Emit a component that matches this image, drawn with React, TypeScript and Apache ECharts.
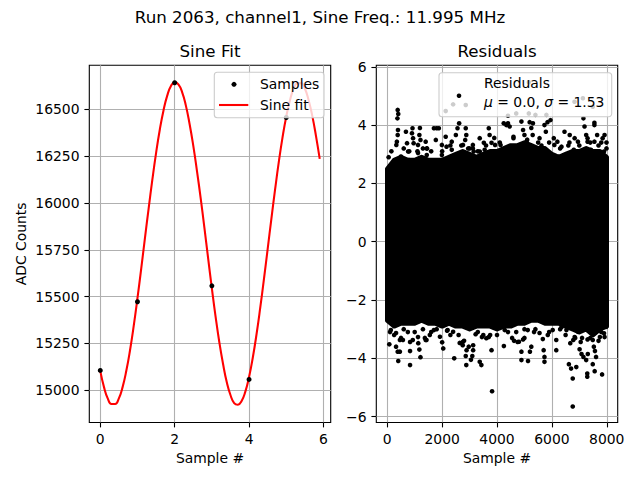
import React, { useEffect, useRef } from 'react';
import * as echarts from 'echarts';

const FONT = 'DejaVu Sans';
const SUPTITLE = 'Run 2063, channel1, Sine Freq.: 11.995 MHz';
const LEFT_TITLE = 'Sine Fit';
const RIGHT_TITLE = 'Residuals';

// Left panel: samples and sine fit
const sampleX = [0, 1, 2, 3, 4, 5];
const sampleY = [15106, 15473, 16643, 15558, 15058, 16457];
const fitX = [
  0, 0.1, 0.2, 0.3, 0.4, 0.5, 0.6, 0.7, 0.8, 0.9,
  1.0, 1.1, 1.2, 1.3, 1.4, 1.5, 1.6, 1.7, 1.8, 1.9,
  2.0, 2.1, 2.2, 2.3, 2.4, 2.5, 2.6, 2.7, 2.8, 2.9,
  3.0, 3.1, 3.2, 3.3, 3.4, 3.5, 3.6, 3.7, 3.8, 3.9,
  4.0, 4.1, 4.2, 4.3, 4.4, 4.5, 4.6, 4.7, 4.8, 4.9,
  5.0, 5.1, 5.2, 5.3, 5.4, 5.5, 5.6, 5.7, 5.8, 5.9,
];
const fitY = [
  15104, 15017, 14957, 14927, 14927, 14957, 15017, 15104, 15214, 15345,
  15492, 15649, 15811, 15971, 16125, 16267, 16392, 16495, 16574, 16625,
  16645, 16634, 16593, 16522, 16424, 16307, 16171, 16025, 15867, 15705,
  15545, 15394, 15258, 15142, 15044, 14975, 14932, 14923, 14943, 14993,
  15071, 15174, 15298, 15440, 15594, 15754, 15916, 16073, 16220, 16351,
  16462, 16549, 16611, 16641, 16641, 16612, 16551, 16466, 16358, 16236,
];
const leftXTicks = [0, 2, 4, 6];
const leftYTicks = [15000, 15250, 15500, 15750, 16000, 16250, 16500];

// Right panel: residuals (dense core as a band, sparse points individually)
const rightXTicks = [0, 2000, 4000, 6000, 8000];
const rightYTicks = [-6, -4, -2, 0, 2, 4, 6];
const bandX = [
  0, 250, 500, 750, 1000, 1250, 1500, 1750, 2000, 2250, 2500, 2750, 3000, 3250, 3500, 3750,
  4000, 4250, 4500, 4750, 5000, 5250, 5500, 5750, 6000, 6250, 6500, 6750, 7000, 7250, 7500, 7750, 7999,
];
const bandUpper = [
  2.5, 2.8, 2.9, 2.8, 2.8, 2.9, 2.8, 2.8, 2.8, 2.9, 3.0, 3.1, 3.0, 2.9, 3.0, 3.1,
  3.1, 3.2, 3.3, 3.3, 3.4, 3.3, 3.2, 3.2, 3.0, 2.9, 3.0, 3.1, 3.1, 3.2, 3.1, 3.1, 2.9,
];
const bandLower = [
  -2.7, -2.9, -2.8, -2.8, -2.8, -2.7, -2.8, -2.8, -2.9, -2.8, -2.9, -2.9, -3.0, -2.9, -2.9, -2.9,
  -3.0, -2.9, -2.9, -2.8, -2.8, -2.7, -2.7, -2.8, -2.8, -2.8, -2.9, -3.0, -3.1, -3.0, -3.2, -3.0, -2.9,
];
const residualsHigh = [
  [380, 4.52], [400, 4.38], [370, 4.23], [390, 3.83], [380, 3.66], [350, 3.43], [330, 3.32],
  [680, 3.77], [920, 3.89], [900, 3.72], [940, 3.55], [960, 3.38], [1190, 3.9], [1170, 3.66],
  [1210, 3.49], [1400, 3.43], [1450, 3.2], [1700, 3.89], [1800, 3.89], [1880, 3.89], [1770, 3.49],
  [2130, 3.6], [2160, 3.26], [2500, 3.66], [2560, 3.89], [2620, 4.06], [2860, 3.89], [2880, 3.66],
  [2840, 3.49], [3120, 3.32], [3150, 3.09], [3520, 3.39], [3550, 3.15], [3700, 3.89], [3730, 3.66],
  [3900, 3.56], [3930, 3.32], [2130, 4.48], [2400, 4.71], [2860, 4.69], [4400, 4.32], [4700, 4.4],
  [5160, 4.4], [5400, 4.35], [5800, 4.35], [5160, 5.47], [6825, 4.8], [7130, 4.92], [7490, 4.63],
  [4400, 4.06], [4460, 3.95], [4890, 4.12], [4950, 3.83], [5000, 3.66], [5190, 4.1], [5250, 3.9],
  [5300, 3.66], [5730, 4.0], [5840, 4.1], [5780, 3.77], [6070, 3.55], [6090, 3.32], [6460, 3.77],
  [6650, 3.66], [6830, 3.55], [7190, 3.95], [7250, 3.66], [7300, 3.55], [7550, 4.0], [7650, 3.66],
  [7850, 3.55], [7920, 3.66], [4245, 4.06], [4340, 4.0], [5310, 4.06], [5950, 4.17], [7150, 4.23],
  [7550, 4.08], [50, 2.9], [150, 3.1], [600, 3.2], [800, 3.1], [1100, 3.1], [1300, 3.2], [1600, 3.1],
  [2000, 3.1], [2300, 3.3], [2700, 3.3], [3000, 3.2], [3300, 3.1], [3600, 3.3], [4100, 3.4],
  [4600, 3.6], [5100, 3.5], [5500, 3.4], [5900, 3.4], [6300, 3.2], [6600, 3.3], [7000, 3.3],
  [7400, 3.4], [7700, 3.3], [7990, 3.2],
  [500, 2.92], [720, 3.38], [760, 3.09], [790, 2.8], [1120, 3.32], [1120, 3.04], [1440, 3.2],
  [1440, 2.97], [1990, 3.32], [1990, 2.97], [2350, 3.43], [2350, 3.15], [2760, 3.32], [2950, 3.2],
  [3120, 3.2], [3370, 3.55], [3370, 3.09], [3800, 3.39], [3800, 3.09], [4130, 3.32], [4130, 3.09],
  [4600, 3.55], [4680, 3.2], [4750, 3.09], [5080, 3.43], [5150, 3.2], [5260, 3.09], [5550, 3.55],
  [5620, 3.3], [5730, 3.09], [6200, 3.43], [6350, 3.26], [6640, 3.4], [6950, 3.43], [6800, 3.15],
  [7300, 3.43], [7550, 3.43], [7420, 3.15], [7800, 3.4], [7990, 3.4], [7900, 3.09],
];
const residualsLow = [
  [75, -3.52], [320, -3.6], [380, -3.77], [460, -3.77], [400, -4.09], [460, -3.37], [570, -3.37],
  [830, -3.44], [830, -3.75], [830, -4.23], [1130, -3.48], [1170, -3.7], [1210, -3.96], [1370, -3.3],
  [1430, -3.37], [1920, -3.26], [2000, -3.45], [2040, -3.66], [2180, -3.05], [2400, -3.09],
  [2440, -4.0], [2640, -3.47], [2750, -3.55], [2800, -3.4], [2890, -3.72], [2860, -3.92],
  [2880, -4.23], [3050, -4.05], [3100, -3.92], [3130, -3.55], [3130, -3.72], [3370, -4.12],
  [3430, -4.23], [3610, -3.31], [3750, -3.2], [3800, -3.72], [3820, -5.13], [4250, -3.58],
  [4620, -3.4], [4800, -3.43], [4950, -3.35], [4890, -3.77], [4890, -4.06], [5130, -4.09],
  [5200, -3.77], [5250, -3.6], [5670, -3.34], [5700, -3.72], [5730, -3.95], [5730, -4.12],
  [6160, -3.37], [6160, -3.72], [6670, -3.48], [6780, -3.37], [6850, -3.3], [6950, -3.09],
  [6620, -4.2], [6700, -4.35], [6760, -4.69], [6890, -4.3], [6760, -5.65], [7010, -3.69],
  [7080, -3.85], [7150, -3.95], [7250, -4.06], [7310, -3.85], [7290, -4.52], [7290, -4.63],
  [7490, -3.37], [7530, -3.6], [7570, -3.75], [7610, -3.95], [7490, -4.2], [7560, -4.44],
  [7830, -4.55], [7980, -2.92], [7800, -3.1], [7900, -3.14], [100, -3.1], [250, -3.2], [600, -3.0],
  [1000, -3.1], [1300, -3.0], [1600, -3.1], [1800, -3.0], [2300, -3.2], [2600, -3.2], [3300, -3.1],
  [3500, -3.2], [4000, -3.2], [4400, -3.1], [4700, -3.1], [5000, -3.0], [5400, -3.0], [5900, -3.1],
  [6300, -3.0], [6500, -3.2], [7100, -3.3], [7400, -3.3], [7700, -3.4],
  [130, -3.03], [320, -3.13], [500, -3.3], [750, -3.1], [930, -3.37], [1120, -3.27], [1400, -3.37],
  [1550, -3.2], [1700, -3.03], [2200, -3.03], [2750, -3.44], [2970, -3.6], [3220, -3.17],
  [3450, -3.27], [3700, -3.27], [4280, -3.03], [4550, -3.3], [4750, -3.44], [5000, -3.3],
  [5120, -3.03], [5350, -3.1], [5550, -3.13], [5850, -3.2], [6030, -3.03], [6350, -2.93],
  [6530, -3.03], [6830, -3.27], [7050, -3.44], [7300, -3.35], [7550, -3.13], [7750, -3.27], [7920, -3.27],
];
const RESID_MU = '0.0';
const RESID_SIGMA = '1.53';

const minus = (v: number) => (v < 0 ? '\u2212' + Math.abs(v) : String(v));

function axisCommon(ticks: number[], fmt: (v: number) => string) {
  return {
    axisLine: { show: false, onZero: false },
    axisTick: {
      show: true,
      inside: false,
      length: 4.9,
      customValues: ticks,
      lineStyle: { color: '#000', width: 1.1 },
    },
    axisLabel: {
      customValues: ticks,
      color: '#000',
      fontSize: 13.9,
      fontFamily: FONT,
      margin: 9.8,
      formatter: fmt,
    },
    splitLine: { show: true, lineStyle: { color: '#b0b0b0', width: 1.1 } },
    nameTextStyle: { color: '#000', fontSize: 13.9, fontFamily: FONT },
  };
}

export default function App() {
  const ref = useRef<HTMLDivElement>(null);
  useEffect(() => {
    if (!ref.current) return;
    const chart = echarts.init(ref.current, null, { renderer: 'svg' });
    const txt = (text: string, x: number, y: number, size: number, align = 'center') => ({
      type: 'text',
      x,
      y,
      z: 110,
      style: {
        text,
        fill: '#000',
        fontSize: size,
        fontFamily: FONT,
        align,
        verticalAlign: 'middle',
        textAlign: align,
        textVerticalAlign: 'middle',
      },
    });
    chart.setOption({
      animation: false,
      backgroundColor: '#fff',
      textStyle: { fontFamily: FONT },
      grid: [
        { left: 89.3, top: 65.3, width: 241.4, height: 357.2, show: true, borderColor: '#000', borderWidth: 1.1, backgroundColor: 'transparent', containLabel: false },
        { left: 376.3, top: 65.3, width: 241.4, height: 357.2, show: true, borderColor: '#000', borderWidth: 1.1, backgroundColor: 'transparent', containLabel: false },
      ],
      xAxis: [
        {
          type: 'value', gridIndex: 0, min: -0.295, max: 6.195,
          name: 'Sample #', nameLocation: 'middle', nameGap: 27,
          ...axisCommon(leftXTicks, (v: number) => String(v)),
        },
        {
          type: 'value', gridIndex: 1, min: -400, max: 8399,
          name: 'Sample #', nameLocation: 'middle', nameGap: 27,
          ...axisCommon(rightXTicks, (v: number) => String(v)),
        },
      ],
      yAxis: [
        {
          type: 'value', gridIndex: 0, min: 14828, max: 16736,
          name: 'ADC Counts', nameLocation: 'middle', nameGap: 61,
          ...axisCommon(leftYTicks, (v: number) => String(v)),
        },
        {
          type: 'value', gridIndex: 1, min: -6.2, max: 6.05,
          ...axisCommon(rightYTicks, minus),
        },
      ],
      series: [
        {
          name: 'Sine fit', type: 'line', xAxisIndex: 0, yAxisIndex: 0,
          data: fitX.map((x, i) => [x, fitY[i]]),
          symbol: 'none', smooth: true,
          lineStyle: { color: '#ff0000', width: 2.08 }, z: 3,
        },
        {
          name: 'Samples', type: 'scatter', xAxisIndex: 0, yAxisIndex: 0,
          data: sampleX.map((x, i) => [x, sampleY[i]]),
          symbolSize: 5, itemStyle: { color: '#000', opacity: 1 }, z: 4,
        },
        {
          name: 'Residual core', type: 'custom', xAxisIndex: 1, yAxisIndex: 1,
          data: [[0, 0]],
          clip: true,
          z: 2,
          renderItem: (_params: any, api: any) => {
            const pts: number[][] = [];
            for (let i = 0; i < bandX.length; i++) pts.push(api.coord([bandX[i], bandUpper[i]]));
            for (let i = bandX.length - 1; i >= 0; i--) pts.push(api.coord([bandX[i], bandLower[i]]));
            return {
              type: 'polygon',
              shape: { points: pts },
              style: { fill: '#000', stroke: '#000', lineWidth: 4.6, lineJoin: 'round' },
            };
          },
        },
        {
          name: 'Residuals', type: 'scatter', xAxisIndex: 1, yAxisIndex: 1,
          data: residualsHigh.concat(residualsLow),
          symbolSize: 4.6, itemStyle: { color: '#000', opacity: 1 }, z: 3,
        },
      ],
      graphic: [
        txt(SUPTITLE, 320, 16.5, 16.7),
        txt(LEFT_TITLE, 210, 51, 16.7),
        txt(RIGHT_TITLE, 497, 51, 16.7),
        // left legend
        {
          type: 'rect', z: 100,
          shape: { x: 214.3, y: 72.3, width: 109.7, height: 45.4, r: 3 },
          style: { fill: 'rgba(255,255,255,0.8)', stroke: '#cccccc', lineWidth: 1.1 },
        },
        { type: 'circle', z: 110, shape: { cx: 234, cy: 84.3, r: 2.5 }, style: { fill: '#000' } },
        txt('Samples', 260, 84.3, 13.9, 'left'),
        {
          type: 'line', z: 110,
          shape: { x1: 219, y1: 105, x2: 248.3, y2: 105 },
          style: { stroke: '#ff0000', lineWidth: 2.08 },
        },
        txt('Sine fit', 260, 105, 13.9, 'left'),
        // right legend
        {
          type: 'rect', z: 100,
          shape: { x: 439, y: 72.7, width: 172.7, height: 44, r: 3 },
          style: { fill: 'rgba(255,255,255,0.8)', stroke: '#cccccc', lineWidth: 1.1 },
        },
        { type: 'circle', z: 110, shape: { cx: 459, cy: 95.7, r: 2.3 }, style: { fill: '#000' } },
        txt('Residuals', 484, 83.3, 13.9, 'left'),
        {
          type: 'text', x: 484, y: 101.7, z: 110,
          style: {
            text: '{i|\u03bc} = ' + RESID_MU + ', {i|\u03c3} = ' + RESID_SIGMA,
            fill: '#000', fontSize: 13.9, fontFamily: FONT,
            align: 'left', verticalAlign: 'middle', textAlign: 'left', textVerticalAlign: 'middle',
            rich: { i: { fontStyle: 'italic', fontSize: 13.9, fontFamily: FONT, fill: '#000' } },
          },
        },
      ],
    });
    return () => chart.dispose();
  }, []);
  return (
    <div
      ref={ref}
      style={{ position: 'fixed', left: 0, top: 0, width: 640, height: 480, background: '#fff' }}
    />
  );
}
